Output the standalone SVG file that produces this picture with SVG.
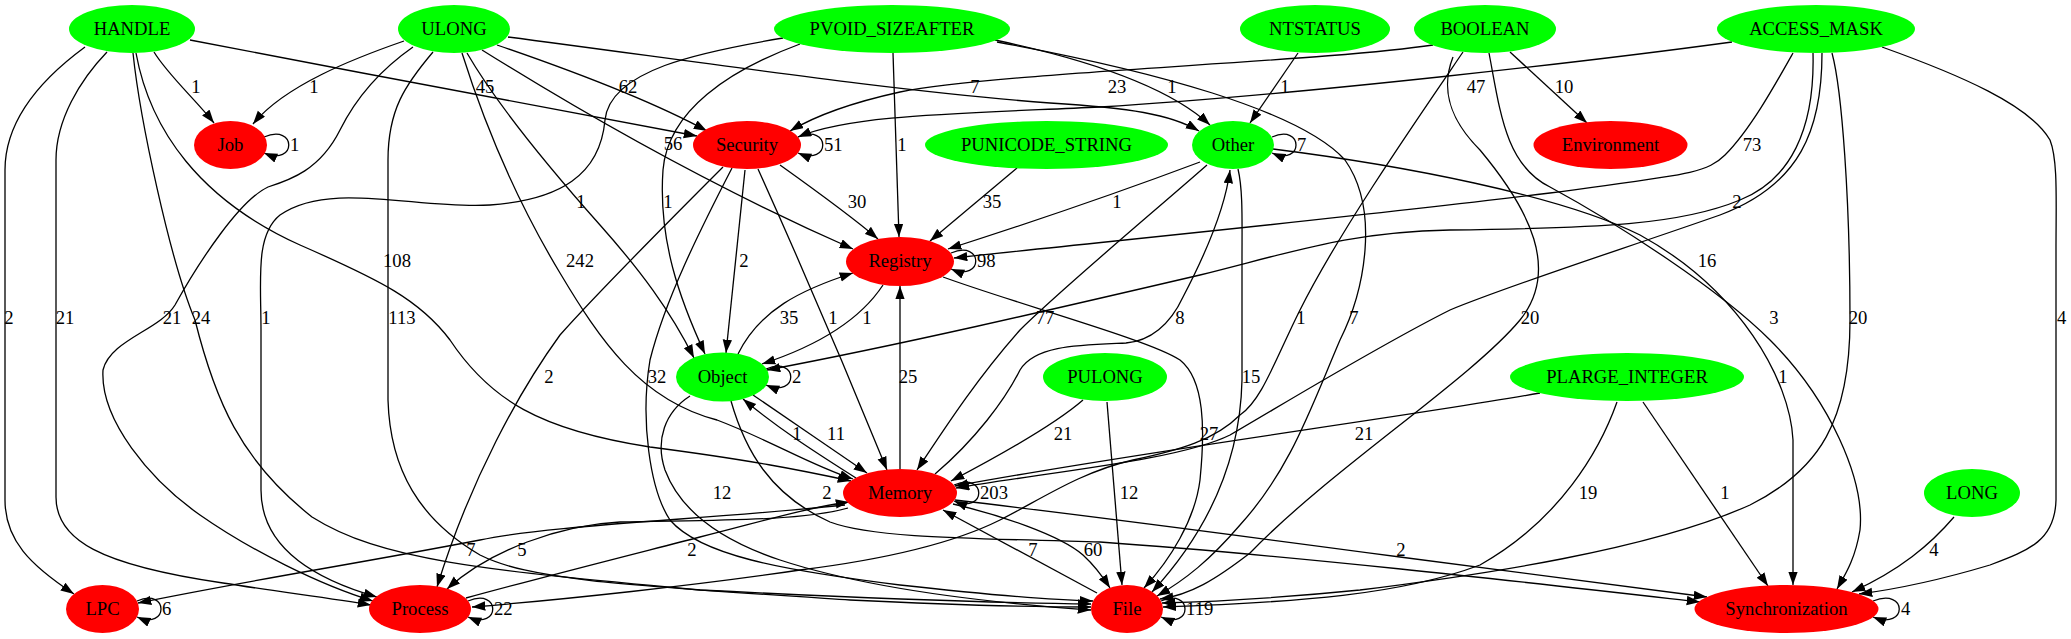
<svg xmlns="http://www.w3.org/2000/svg" width="2071" height="639" viewBox="0 0 2071 639" font-family="'Liberation Serif', 'Times New Roman', Times, 'DejaVu Serif', serif">
<style>
text{font-family:'Liberation Serif','Times New Roman',Times,'DejaVu Serif',serif;font-size:18.67px;fill:#000}
.n text{text-anchor:middle}
.g{fill:#00ff00}
.r{fill:#ff0000}
#edges path{fill:none;stroke:#000;stroke-width:1.3;marker-end:url(#ah)}
#labels text{text-anchor:middle}
#labels text.s{text-anchor:start}
</style>
<defs>
<marker id="ah" markerUnits="userSpaceOnUse" markerWidth="14" markerHeight="10" refX="13.3" refY="4.7" orient="auto"><path d="M0,0 L13.3,4.7 L0,9.4 z" fill="#000"/></marker>
</defs>
<rect width="2071" height="639" fill="#fff"/>
<g id="edges">
<path d="M154,52 C168,75 196,100 214,123"/>
<path d="M404,41 C355,58 285,85 253,124"/>
<path d="M190,40 C360,73 560,110 697,136"/>
<path d="M497,45 C570,70 650,100 707,131"/>
<path d="M482,50 C570,105 700,182 853,249"/>
<path d="M508,37 C700,62 900,92 1050,103 C1130,108 1170,114 1199,131"/>
<path d="M995,40 C1090,60 1170,88 1210,125"/>
<path d="M1298,53 L1250,123"/>
<path d="M893,53 L899,237"/>
<path d="M1017,168 L930,241"/>
<path d="M1200,162 C1120,192 1020,226 948,249"/>
<path d="M1793,53 C1775,85 1750,130 1725,155 C1705,175 1680,175 1550,193 C1350,218 1100,242 954,258"/>
<path d="M1433,45 C1320,62 1000,72 900,92 C850,103 815,116 790,131"/>
<path d="M1732,42 C1600,60 1300,95 1100,107 C950,114 850,115 798,137"/>
<path d="M1510,52 L1587,123"/>
<path d="M800,44 C730,70 668,110 663,170 C658,240 680,300 705,354"/>
<path d="M783,38 C700,52 610,70 605,120 C600,175 560,200 490,205 C420,210 330,180 280,215 C255,235 261,280 261,330 L261,490 C261,540 300,575 377,597"/>
<path d="M997,42 C1150,70 1300,110 1345,160 C1380,210 1365,290 1340,340 C1310,410 1290,470 1240,525 C1210,560 1185,580 1157,596"/>
<path d="M85,47 C40,80 5,120 5,170 L5,500 C5,540 30,565 74,594"/>
<path d="M107,52 C80,80 56,120 56,160 L56,497 C56,540 100,565 223,583 C280,592 330,598 371,605"/>
<path d="M413,47 C380,70 355,100 340,130 C320,170 290,180 268,187 C240,200 200,260 175,305 C160,330 110,340 103,370 C100,420 150,480 200,515 C250,550 320,585 373,601"/>
<path d="M133,53 C140,120 170,260 195,320 C215,400 240,460 312,517 C380,560 480,570 700,590 C900,600 1000,603 1091,604"/>
<path d="M433,52 C405,85 388,110 388,160 L388,400 C390,470 420,520 480,555 C530,580 620,585 850,600 C950,605 1030,607 1091,607"/>
<path d="M136,53 C150,130 200,200 300,245 C380,280 420,300 450,340 C490,400 540,430 650,447 C750,460 800,470 851,481"/>
<path d="M462,53 C480,110 510,190 560,273 C600,340 640,400 717,420 C770,440 810,465 853,479"/>
<path d="M467,53 C500,110 560,180 600,225 C640,270 670,310 694,358"/>
<path d="M745,170 L726,353"/>
<path d="M780,165 C815,190 850,215 878,239"/>
<path d="M758,169 C790,240 830,330 887,470"/>
<path d="M723,167 C660,230 600,290 560,335 C520,390 470,480 437,587"/>
<path d="M732,168 C700,230 665,300 650,360 C640,420 650,490 670,520 C700,555 780,570 900,585 C990,595 1050,600 1093,601"/>
<path d="M738,354 C760,310 800,290 853,273"/>
<path d="M883,285 C860,320 820,345 762,364"/>
<path d="M856,478 C820,455 780,430 743,399"/>
<path d="M753,395 C790,420 830,448 867,473"/>
<path d="M900,469 L900,286"/>
<path d="M1207,165 C1150,215 1060,290 1020,330 C980,375 950,420 917,470"/>
<path d="M935,474 C975,440 1005,400 1020,370 C1035,345 1080,345 1126,343 C1150,341 1170,325 1183,297 C1205,255 1225,210 1230,170"/>
<path d="M1083,400 C1060,420 1010,450 951,481"/>
<path d="M1540,393 C1400,418 1150,450 955,486"/>
<path d="M1822,53 C1822,130 1800,185 1720,215 C1620,250 1510,285 1450,310 C1380,345 1290,400 1230,435 C1180,460 1050,472 956,488"/>
<path d="M1813,53 C1815,130 1790,180 1740,200 C1680,225 1600,228 1450,230 C1350,232 1300,250 1200,275 C1050,310 900,345 767,370"/>
<path d="M1273,149 C1400,165 1560,195 1640,235 C1740,290 1790,380 1793,440 L1793,585"/>
<path d="M1489,53 C1500,110 1505,165 1550,187 C1620,225 1720,290 1770,340 C1830,400 1865,480 1860,530 C1855,560 1845,575 1837,589"/>
<path d="M1882,47 C1960,75 2030,105 2050,140 C2058,160 2056,200 2056,250 L2056,500 C2055,540 2030,550 1990,565 C1940,580 1890,590 1859,594"/>
<path d="M1954,517 C1930,545 1900,570 1852,592"/>
<path d="M1643,402 L1768,586"/>
<path d="M1617,402 C1600,450 1560,520 1480,565 C1400,595 1300,602 1163,607"/>
<path d="M1832,53 C1842,90 1850,200 1850,320 C1850,420 1820,470 1750,505 C1650,550 1480,575 1360,590 C1280,598 1200,602 1162,603"/>
<path d="M1453,57 C1440,90 1450,120 1480,150 C1530,210 1560,270 1520,320 C1470,380 1330,470 1250,553 C1215,580 1190,595 1160,599"/>
<path d="M1238,169 C1243,190 1242,220 1242,260 L1242,380 C1240,470 1200,540 1152,592"/>
<path d="M943,277 C1020,305 1150,340 1180,360 C1205,380 1205,430 1200,480 C1195,520 1170,560 1144,588"/>
<path d="M1107,402 L1122,585"/>
<path d="M953,504 C1000,515 1060,535 1083,555 C1095,566 1103,577 1110,588"/>
<path d="M1097,593 L943,510"/>
<path d="M690,396 C665,412 655,440 665,470 C680,510 720,540 780,560 C850,583 950,600 1091,610"/>
<path d="M731,401 C745,450 770,495 830,522 C870,537 950,538 1100,542 C1300,556 1550,585 1700,602"/>
<path d="M955,500 C1100,517 1250,537 1400,557 C1520,573 1640,589 1707,597"/>
<path d="M845,505 C700,520 550,525 480,540 C350,565 250,580 138,603"/>
<path d="M848,508 C800,522 700,520 620,522 C560,525 490,550 447,589"/>
<path d="M466,598 C550,575 650,550 700,537 C760,522 805,508 849,502"/>
<path d="M1463,52 C1420,115 1340,230 1300,310 C1275,360 1262,400 1240,415 C1215,440 1180,450 1133,460 C1080,472 1040,500 1000,520 C950,545 880,560 800,570 C700,585 560,600 472,607"/>
<path d="M264,137 C297,123 297,167 264,153"/>
<path d="M798,137 C831,123 831,167 798,153"/>
<path d="M1272,137 C1304,123 1304,167 1272,153"/>
<path d="M951,253 C984,239 984,283 951,269"/>
<path d="M766,369 C799,355 799,399 766,385"/>
<path d="M954,485 C987,471 987,515 954,501"/>
<path d="M1161,601 C1193,587 1193,631 1161,617"/>
<path d="M137,601 C169,587 169,631 137,617"/>
<path d="M468,601 C501,587 501,631 468,617"/>
<path d="M1873,601 C1908,587 1908,631 1873,617"/>
</g>
<g id="labels">
<text x="196" y="93">1</text>
<text x="314" y="93">1</text>
<text x="485" y="93">45</text>
<text x="628" y="93">62</text>
<text x="975" y="93">7</text>
<text x="1117" y="93">23</text>
<text x="1172" y="93">1</text>
<text x="1285" y="93">1</text>
<text x="1476" y="93">47</text>
<text x="1564" y="93">10</text>
<text class="s" x="290" y="151">1</text>
<text x="673" y="150">56</text>
<text class="s" x="824" y="151">51</text>
<text x="902" y="151">1</text>
<text class="s" x="1297" y="151">7</text>
<text x="1752" y="151">73</text>
<text x="581" y="208">1</text>
<text x="668" y="208">1</text>
<text x="857" y="208">30</text>
<text x="992" y="208">35</text>
<text x="1117" y="208">1</text>
<text x="1737" y="208">2</text>
<text x="397" y="267">108</text>
<text x="580" y="267">242</text>
<text x="744" y="267">2</text>
<text class="s" x="977" y="267">98</text>
<text x="1707" y="267">16</text>
<text x="9" y="324">2</text>
<text x="65" y="324">21</text>
<text x="172" y="324">21</text>
<text x="201" y="324">24</text>
<text x="266" y="324">1</text>
<text x="402" y="324">113</text>
<text x="789" y="324">35</text>
<text x="833" y="324">1</text>
<text x="867" y="324">1</text>
<text x="1045" y="324">77</text>
<text x="1180" y="324">8</text>
<text x="1301" y="324">1</text>
<text x="1354" y="324">7</text>
<text x="1530" y="324">20</text>
<text x="1774" y="324">3</text>
<text x="1858" y="324">20</text>
<text class="s" x="2057" y="324">4</text>
<text x="549" y="383">2</text>
<text x="657" y="383">32</text>
<text class="s" x="792" y="383">2</text>
<text x="908" y="383">25</text>
<text x="1251" y="383">15</text>
<text x="1783" y="383">1</text>
<text x="797" y="440">1</text>
<text x="836" y="440">11</text>
<text x="1063" y="440">21</text>
<text x="1209" y="440">27</text>
<text x="1364" y="440">21</text>
<text x="722" y="499">12</text>
<text x="827" y="499">2</text>
<text class="s" x="980" y="499">203</text>
<text x="1129" y="499">12</text>
<text x="1588" y="499">19</text>
<text x="1725" y="499">1</text>
<text x="471" y="556">7</text>
<text x="522" y="556">5</text>
<text x="692" y="556">2</text>
<text x="1033" y="556">7</text>
<text x="1093" y="556">60</text>
<text x="1401" y="556">2</text>
<text x="1934" y="556">4</text>
<text class="s" x="162" y="615">6</text>
<text class="s" x="494" y="615">22</text>
<text class="s" x="1186" y="615">119</text>
<text class="s" x="1901" y="615">4</text>
</g>
<g id="HANDLE" class="n"><ellipse class="g" cx="132" cy="29" rx="63" ry="24"/><text x="132" y="35">HANDLE</text></g>
<g id="ULONG" class="n"><ellipse class="g" cx="454" cy="29" rx="56" ry="24"/><text x="454" y="35">ULONG</text></g>
<g id="PVOID_SIZEAFTER" class="n"><ellipse class="g" cx="892" cy="29" rx="118" ry="24"/><text x="892" y="35">PVOID_SIZEAFTER</text></g>
<g id="NTSTATUS" class="n"><ellipse class="g" cx="1315" cy="29" rx="75" ry="24"/><text x="1315" y="35">NTSTATUS</text></g>
<g id="BOOLEAN" class="n"><ellipse class="g" cx="1485" cy="29" rx="71" ry="24"/><text x="1485" y="35">BOOLEAN</text></g>
<g id="ACCESS_MASK" class="n"><ellipse class="g" cx="1816" cy="29" rx="99" ry="24"/><text x="1816" y="35">ACCESS_MASK</text></g>
<g id="Job" class="n"><ellipse class="r" cx="230.5" cy="145" rx="36.5" ry="24"/><text x="230.5" y="151">Job</text></g>
<g id="Security" class="n"><ellipse class="r" cx="747" cy="145" rx="54" ry="24"/><text x="747" y="151">Security</text></g>
<g id="PUNICODE_STRING" class="n"><ellipse class="g" cx="1046.5" cy="145" rx="121.5" ry="24"/><text x="1046.5" y="151">PUNICODE_STRING</text></g>
<g id="Other" class="n"><ellipse class="g" cx="1233" cy="145" rx="41" ry="24"/><text x="1233" y="151">Other</text></g>
<g id="Environment" class="n"><ellipse class="r" cx="1610.5" cy="145" rx="77" ry="24"/><text x="1610.5" y="151">Environment</text></g>
<g id="Registry" class="n"><ellipse class="r" cx="900" cy="261.5" rx="54" ry="24.5"/><text x="900" y="267">Registry</text></g>
<g id="Object" class="n"><ellipse class="g" cx="722.5" cy="377" rx="46.5" ry="24.5"/><text x="722.5" y="383">Object</text></g>
<g id="PULONG" class="n"><ellipse class="g" cx="1105" cy="377" rx="62" ry="24"/><text x="1105" y="383">PULONG</text></g>
<g id="PLARGE_INTEGER" class="n"><ellipse class="g" cx="1627" cy="377" rx="117" ry="24"/><text x="1627" y="383">PLARGE_INTEGER</text></g>
<g id="Memory" class="n"><ellipse class="r" cx="900" cy="493" rx="57" ry="24"/><text x="900" y="499">Memory</text></g>
<g id="LONG" class="n"><ellipse class="g" cx="1972" cy="493" rx="48" ry="24"/><text x="1972" y="499">LONG</text></g>
<g id="LPC" class="n"><ellipse class="r" cx="102.5" cy="609" rx="36.5" ry="24"/><text x="102.5" y="615">LPC</text></g>
<g id="Process" class="n"><ellipse class="r" cx="420" cy="609" rx="51" ry="24"/><text x="420" y="615">Process</text></g>
<g id="File" class="n"><ellipse class="r" cx="1127" cy="609" rx="36" ry="24"/><text x="1127" y="615">File</text></g>
<g id="Synchronization" class="n"><ellipse class="r" cx="1786.5" cy="609" rx="92" ry="24"/><text x="1786.5" y="615">Synchronization</text></g>
</svg>
